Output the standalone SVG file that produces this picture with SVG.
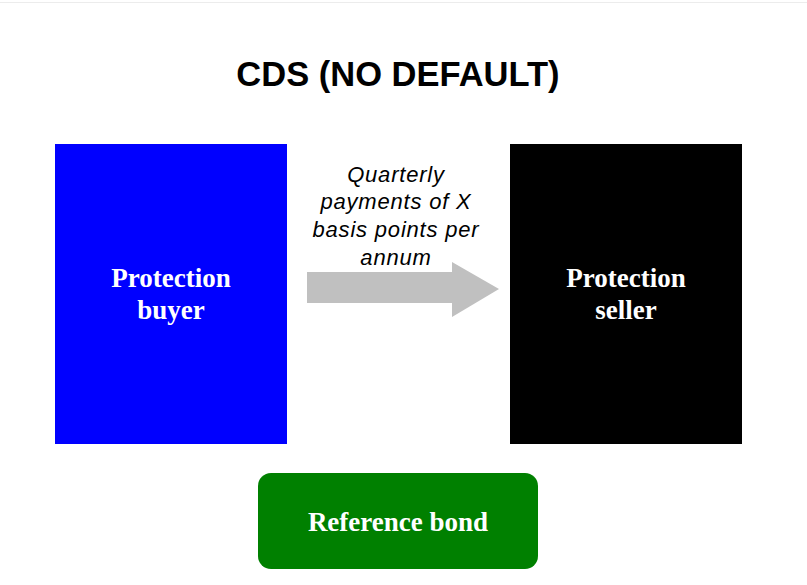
<svg xmlns="http://www.w3.org/2000/svg" width="807" height="585" viewBox="0 0 807 585">
  <style>
    .title { font-family: "Liberation Sans", Arial, sans-serif; font-weight: bold; font-size: 34.5px; fill: #000; }
    .node-label { font-family: "Liberation Serif", "Times New Roman", serif; font-weight: bold; font-size: 27px; fill: #fff; }
    .edge-label { font-family: "Liberation Sans", Arial, sans-serif; font-style: italic; font-size: 22px; letter-spacing: 0.8px; fill: #000; }
  </style>
  <rect x="0" y="0" width="807" height="585" fill="#fff"/>
  <line x1="0" y1="2.5" x2="807" y2="2.5" stroke="#ececec" stroke-width="1"/>
  <text class="title" x="398" y="86" text-anchor="middle">CDS (NO DEFAULT)</text>

  <g id="buyer">
    <rect x="55" y="144" width="232" height="300" fill="#0000ff"/>
    <text class="node-label" text-anchor="middle" x="171" y="287">Protection</text>
    <text class="node-label" text-anchor="middle" x="171" y="319">buyer</text>
  </g>

  <g id="seller">
    <rect x="510" y="144" width="232" height="300" fill="#000000"/>
    <text class="node-label" text-anchor="middle" x="626" y="287">Protection</text>
    <text class="node-label" text-anchor="middle" x="626" y="319">seller</text>
  </g>

  <g id="reference-bond">
    <rect x="258" y="473" width="280" height="96" rx="13" ry="13" fill="#008000"/>
    <text class="node-label" text-anchor="middle" x="398" y="531">Reference bond</text>
  </g>

  <g id="connectors">
    <polygon points="307,272 452,272 452,262 499,289 452,317 452,303 307,303" fill="#c0c0c0"/>
    <text class="edge-label" text-anchor="middle" x="396" y="182">Quarterly</text>
    <text class="edge-label" text-anchor="middle" x="396" y="209">payments of X</text>
    <text class="edge-label" text-anchor="middle" x="396" y="237">basis points per</text>
    <text class="edge-label" text-anchor="middle" x="396" y="265">annum</text>
  </g>
</svg>
